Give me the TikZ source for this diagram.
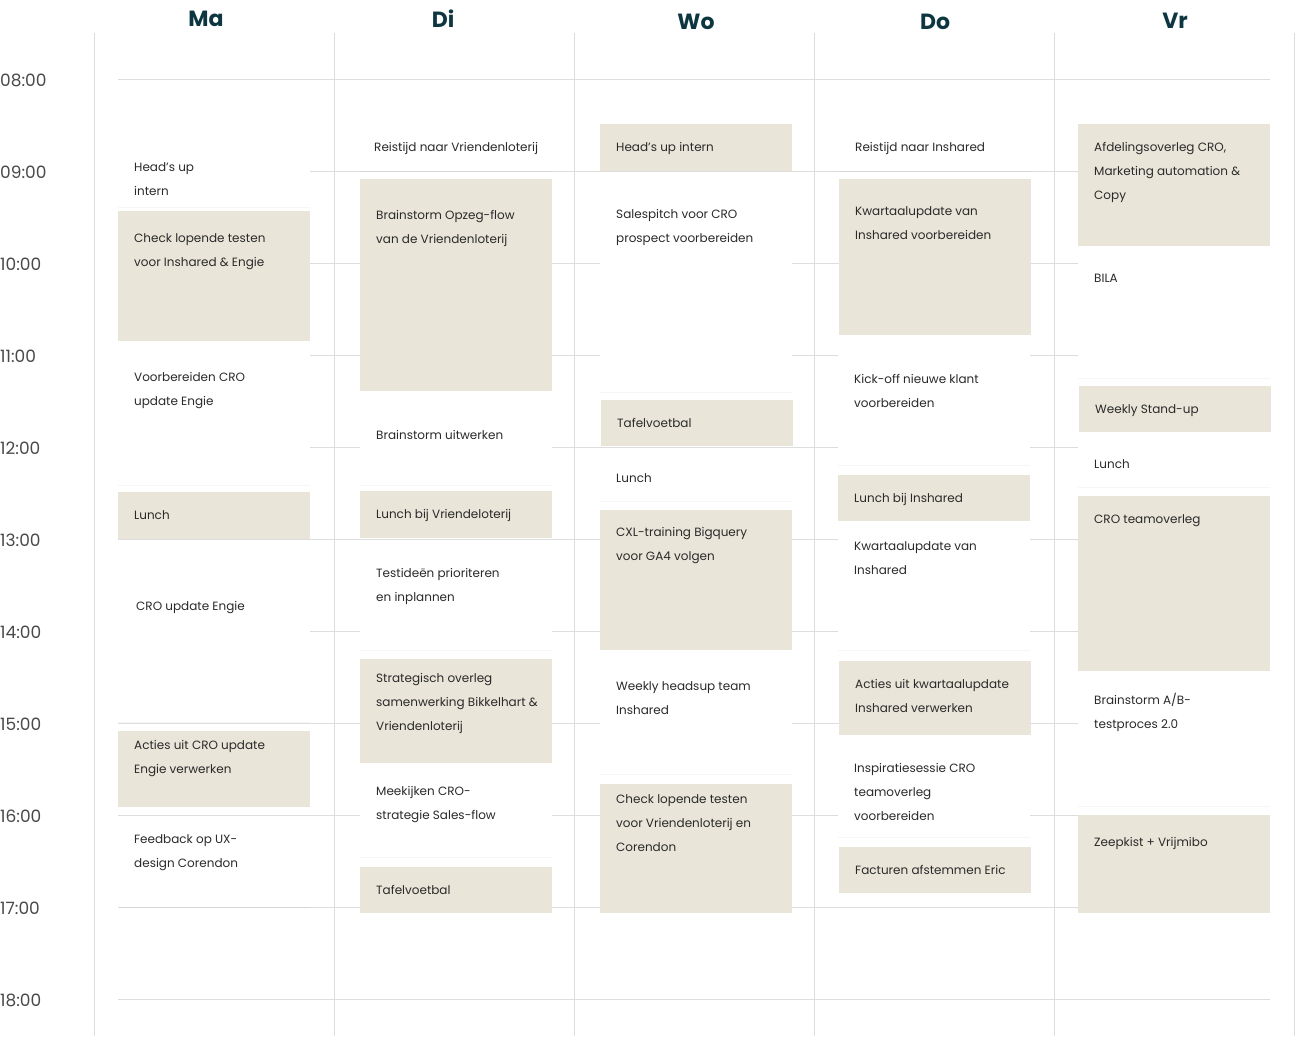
\documentclass[tikz,border=0pt]{standalone}
\usepackage{fontspec}
\setmainfont{Poppins}
\usetikzlibrary{shadows}
\definecolor{beige}{HTML}{E9E5D9}
\definecolor{gridc}{HTML}{DDDDDD}
\definecolor{headc}{HTML}{0E3640}
\definecolor{txt}{HTML}{2A2A2A}
\tikzset{
  beigebox/.style={fill=beige, draw=none},
  whitebox/.style={fill=white, draw=none, drop shadow={opacity=0.07, shadow xshift=0pt, shadow yshift=-1pt}},
  evtext/.style={font=\fontsize{12}{24}\selectfont, text=txt, align=left, inner sep=0pt},
  dayhead/.style={font=\fontsize{22}{26}\selectfont\bfseries, text=headc},
  timelab/.style={font=\fontsize{17}{18}\selectfont, text=txt!85, anchor=west, inner sep=0pt},
}
% name, x, top, bottom, style, first-line y, number of lines, text
\newcommand\ev[8]{%
  \node[#5, anchor=north west, inner sep=0pt, minimum width=192pt, minimum height={#4pt-#3pt}] (#1) at (#2,#3) {};
  \node[evtext, anchor=base west] (#1t) at (#2+16,#6+4.5+24*#7-24) {#8};
}
\begin{document}
\begin{tikzpicture}[x=1pt,y=-1pt]
\fill[white] (0,0) rectangle (1311,1036);
\useasboundingbox (0,0) rectangle (1311,1036);
\foreach \x in {94,334,574,814,1054,1294} \draw[gridc, line width=1pt] (\x,33) -- (\x,1036);
\foreach \k/\t in {0/08:00,1/09:00,2/10:00,3/11:00,4/12:00,5/13:00,6/14:00,7/15:00,8/16:00,9/17:00,10/18:00}{
  \draw[gridc, line width=1pt] (118,79+92*\k) -- (1270,79+92*\k);
  \node[timelab] at (0,80+92*\k) {\t};
}
\node[dayhead] (ma) at (206,19) {Ma};
\node[dayhead] (di) at (443,19) {Di};
\node[dayhead] (wo) at (696,22) {Wo};
\node[dayhead] (do) at (935,22) {Do};
\node[dayhead] (vr) at (1175,21) {Vr};
% Ma
\ev{m1}{118}{155}{207}{whitebox}{167}{2}{Head’s up\\intern}
\ev{m2}{118}{211}{341}{beigebox}{238}{2}{Check lopende testen\\voor Inshared \& Engie}
\ev{m3}{118}{355}{485}{whitebox}{377}{2}{Voorbereiden CRO\\update Engie}
\ev{m4}{118}{492}{539}{beigebox}{515}{1}{Lunch}
\ev{m5}{118}{547}{722}{whitebox}{606}{1}{\hspace*{2pt}CRO update Engie}
\ev{m6}{118}{731}{807}{beigebox}{745}{2}{Acties uit CRO update\\Engie verwerken}
\ev{m7}{118}{820}{907}{whitebox}{839}{2}{Feedback op UX-\\design Corendon}
% Di
\ev{d1}{360}{125}{171}{whitebox}{147}{1}{\hspace*{-2pt}Reistijd naar Vriendenloterij}
\ev{d2}{360}{179}{391}{beigebox}{215}{2}{Brainstorm Opzeg-flow\\van de Vriendenloterij}
\ev{d3}{360}{400}{485}{whitebox}{435}{1}{Brainstorm uitwerken}
\ev{d4}{360}{491}{538}{beigebox}{514}{1}{Lunch bij Vriendeloterij}
\ev{d5}{360}{545}{650}{whitebox}{573}{2}{Testideën prioriteren\\en inplannen}
\ev{d6}{360}{659}{763}{beigebox}{678}{3}{Strategisch overleg\\samenwerking Bikkelhart \&\\Vriendenloterij}
\ev{d7}{360}{772}{857}{whitebox}{791}{2}{Meekijken CRO-\\strategie Sales-flow}
\ev{d8}{360}{867}{913}{beigebox}{890}{1}{Tafelvoetbal}
% Wo
\ev{w1}{600}{124}{171}{beigebox}{147}{1}{Head’s up intern}
\ev{w2}{600}{179}{392}{whitebox}{214}{2}{Salespitch voor CRO\\prospect voorbereiden}
\ev{w3}{601}{400}{446}{beigebox}{423}{1}{Tafelvoetbal}
\ev{w4}{600}{455}{501}{whitebox}{478}{1}{Lunch}
\ev{w5}{600}{510}{650}{beigebox}{532}{2}{CXL-training Bigquery\\voor GA4 volgen}
\ev{w6}{600}{659}{774}{whitebox}{686}{2}{Weekly headsup team\\Inshared}
\ev{w7}{600}{784}{913}{beigebox}{799}{3}{Check lopende testen\\voor Vriendenloterij en\\Corendon}
% Do
\ev{o1}{839}{124}{171}{whitebox}{147}{1}{Reistijd naar Inshared}
\ev{o2}{839}{179}{335}{beigebox}{211}{2}{Kwartaalupdate van\\Inshared voorbereiden}
\ev{o3}{838}{350}{465}{whitebox}{379}{2}{Kick-off nieuwe klant\\voorbereiden}
\ev{o4}{838}{475}{521}{beigebox}{498}{1}{Lunch bij Inshared}
\ev{o5}{838}{529}{650}{whitebox}{546}{2}{Kwartaalupdate van\\Inshared}
\ev{o6}{839}{661}{735}{beigebox}{684}{2}{Acties uit kwartaalupdate\\Inshared verwerken}
\ev{o7}{838}{745}{837}{whitebox}{768}{3}{Inspiratiesessie CRO\\teamoverleg\\voorbereiden}
\ev{o8}{839}{847}{893}{beigebox}{870}{1}{Facturen afstemmen Eric}
% Vr
\ev{v1}{1078}{124}{246}{beigebox}{147}{3}{Afdelingsoverleg CRO,\\Marketing automation \&\\Copy}
\ev{v2}{1078}{255}{378}{whitebox}{278}{1}{BILA}
\ev{v3}{1079}{386}{432}{beigebox}{409}{1}{Weekly Stand-up}
\ev{v4}{1078}{441}{487}{whitebox}{464}{1}{Lunch}
\ev{v5}{1078}{496}{671}{beigebox}{519}{1}{CRO teamoverleg}
\ev{v6}{1078}{681}{806}{whitebox}{700}{2}{Brainstorm A/B-\\testproces 2.0}
\ev{v7}{1078}{815}{913}{beigebox}{842}{1}{Zeepkist + Vrijmibo}
\end{tikzpicture}
\end{document}
